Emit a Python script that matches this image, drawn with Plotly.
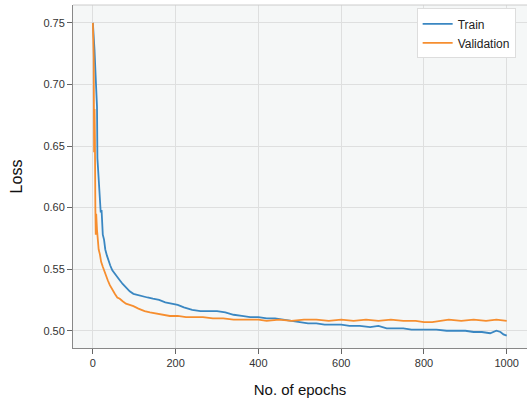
import plotly.graph_objects as go

# Values
train_epochs = [0, 2, 4, 6, 8, 10, 11, 13, 15, 17, 19, 21, 24, 27, 30, 34, 38, 42, 47, 53, 59, 65, 72, 80, 89, 98,
                108, 120, 132, 145, 160, 175, 190, 205, 220, 240, 260, 280, 300, 320, 340, 360, 380, 400, 420,
                440, 460, 480, 500, 520, 540, 560, 580, 600, 620, 645, 670, 690, 710, 730, 750, 770, 790, 810,
                830, 855, 880, 900, 920, 940, 960, 975, 985, 992, 1000]
train_loss = [0.750, 0.742, 0.728, 0.712, 0.695, 0.682, 0.640, 0.628, 0.612, 0.604, 0.596, 0.598, 0.578, 0.574,
              0.566, 0.561, 0.556, 0.553, 0.549, 0.546, 0.543, 0.541, 0.538, 0.535, 0.532, 0.530,
              0.529, 0.528, 0.527, 0.526, 0.525, 0.523, 0.522, 0.521, 0.519, 0.517, 0.516, 0.516, 0.516,
              0.515, 0.513, 0.512, 0.511, 0.511, 0.510, 0.510, 0.509, 0.508, 0.507, 0.506, 0.506, 0.505,
              0.505, 0.505, 0.504, 0.504, 0.503, 0.504, 0.502, 0.502, 0.502, 0.501, 0.501, 0.501, 0.501,
              0.500, 0.500, 0.500, 0.499, 0.499, 0.498, 0.500, 0.499, 0.497, 0.496]

val_epochs = [0, 1, 2, 3, 4, 5, 6, 7, 8, 10, 12, 14, 17, 20, 24, 28, 32, 36, 41, 47, 53, 59, 65, 72, 80, 89, 98,
              110, 125, 138, 155, 170, 186, 205, 225, 245, 266, 290, 315, 340, 370, 400, 420, 450, 480,
              510, 540, 570, 600, 630, 660, 690, 720, 750, 780, 800, 820, 840, 860, 890, 920, 950, 975, 1000]
val_loss = [0.750, 0.733, 0.722, 0.645, 0.680, 0.655, 0.600, 0.578, 0.595, 0.582, 0.575, 0.566, 0.562, 0.556,
            0.552, 0.548, 0.545, 0.541, 0.537, 0.533, 0.530, 0.527, 0.526, 0.524, 0.522, 0.521, 0.520,
            0.518, 0.516, 0.515, 0.514, 0.513, 0.512, 0.512, 0.511, 0.511, 0.511, 0.510, 0.510, 0.509,
            0.509, 0.509, 0.508, 0.509, 0.508, 0.509, 0.509, 0.508, 0.509, 0.508, 0.509, 0.508, 0.509,
            0.508, 0.508, 0.507, 0.507, 0.508, 0.509, 0.508, 0.509, 0.508, 0.509, 0.508]

x_ticks = [0, 200, 400, 600, 800, 1000]
y_ticks = [0.50, 0.55, 0.60, 0.65, 0.70, 0.75]
y_tick_labels = ["0.50", "0.55", "0.60", "0.65", "0.70", "0.75"]

fig = go.Figure()
fig.add_trace(go.Scatter(x=train_epochs, y=train_loss, mode="lines", name="Train",
                         line=dict(color="#3a87c2", width=1.8)))
fig.add_trace(go.Scatter(x=val_epochs, y=val_loss, mode="lines", name="Validation",
                         line=dict(color="#f68e2f", width=1.8)))

axis_common = dict(showgrid=True, gridcolor="#dedfdf", gridwidth=1, zeroline=False,
                   ticks="outside", ticklen=5, tickcolor="#666", showline=True, linecolor="#888",
                   linewidth=1, automargin=False,
                   tickfont=dict(family="Liberation Sans, Arial", size=11, color="#333"))

fig.update_layout(
    width=527, height=400,
    margin=dict(l=73, r=0, t=5, b=52, autoexpand=False),
    paper_bgcolor="white", plot_bgcolor="#f5f7f7",
    font=dict(family="Liberation Sans, Arial", color="#222"),
    xaxis=dict(range=[-48, 1049], tickvals=x_ticks,
               title=dict(text="No. of epochs", font=dict(size=15, color="#111"), standoff=16),
               **axis_common),
    yaxis=dict(range=[0.486, 0.7645], tickvals=y_ticks, ticktext=y_tick_labels,
               title=dict(text="Loss", font=dict(size=16, color="#111"), standoff=16),
               **axis_common),
    legend=dict(x=0.975, y=0.99, xanchor="right", yanchor="top", bgcolor="white",
                bordercolor="#dddddd", borderwidth=1, font=dict(size=12, color="#222"),
                itemwidth=30, tracegroupgap=0),
    showlegend=True,
)
fig.add_shape(type="line", xref="paper", yref="paper", x0=0, x1=1, y0=1, y1=1,
              line=dict(color="#cccccc", width=1))

fig.write_html("out.html", config={"displayModeBar": False},
               post_script="document.body.style.margin='0';")
